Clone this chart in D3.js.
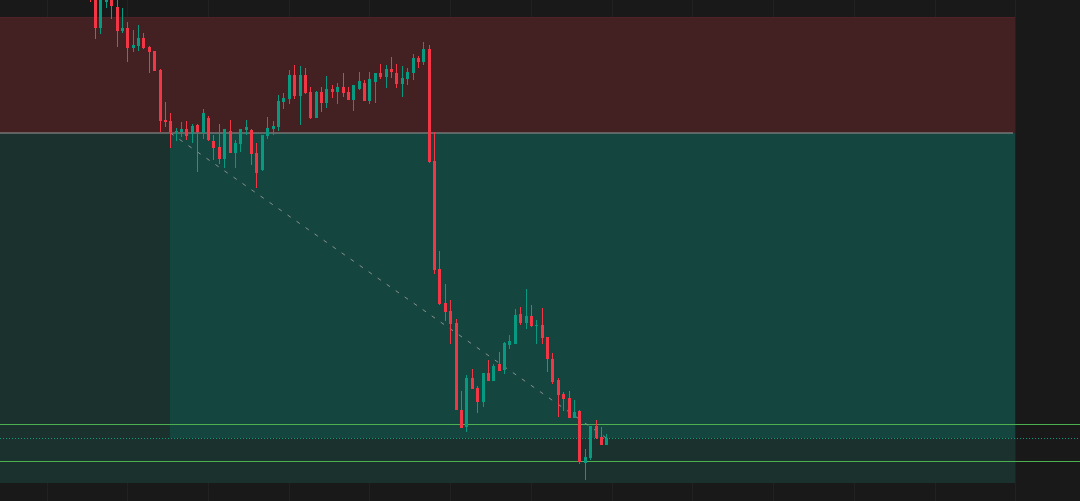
<!DOCTYPE html>
<html>
<head>
<meta charset="utf-8">
<script src="https://cdn.jsdelivr.net/npm/d3@7"></script>
<style>
  html, body { margin: 0; padding: 0; background: #191919; overflow: hidden; }
  svg { display: block; }
</style>
</head>
<body>
<svg id="chart" width="1080" height="501"></svg>
<script>
// ---- DATA (bar index, OHLC) ----
const bars = [-1,0,1,2,3,4,5,6,7,8,9,10,11,12,13,14,15,16,17,18,19,20,21,22,23,24,25,26,27,28,29,30,31,32,33,34,35,36,37,38,39,40,41,42,43,44,45,46,47,48,49,50,51,52,53,54,55,56,57,58,59,60,61,62,63,64,65,66,67,68,69,70,71,72,73,74,75,76,77,78,79,80,81,82,83,84,85,86,87,88,89,90,91,92,93,94,95];
const openP  = [70200,70050,69723,69983,70030,69930,69690,69720,69520,69540,69620,69530,69490,69300,68800,68790,68680,68680,68710,68660,68750,68670,68820,68590,68530,68410,68690,68470,68560,68700,68700,68470,68300,68640,68710,68730,68980,69010,69250,69040,69250,69080,68820,69080,68970,69110,69080,69130,69080,69000,69110,69170,68990,69180,69270,69230,69310,69270,69160,69210,69270,69420,69380,69510,68390,67310,66970,66890,66770,65900,65730,66220,66120,65980,66270,66190,66360,66300,66550,66560,66860,66770,66840,66740,66750,66630,66410,66200,66060,66020,65820,65890,65370,65420,65740,65630,65550];
const highP  = [70250,70100,70080,70080,70060,70010,69920,69780,69700,69750,69670,69540,69490,69310,68980,68870,68720,68780,68790,68760,68760,68910,68840,68650,68760,68710,68800,68600,68710,68800,68710,68570,68650,68830,68790,69050,69070,69300,69350,69340,69320,69130,69090,69130,69240,69150,69170,69270,69130,69150,69280,69200,69280,69270,69360,69350,69430,69360,69340,69320,69460,69440,69580,69550,68680,67490,67160,67000,66810,66090,66250,66310,66140,66270,66400,66360,66480,66580,66650,66910,66930,67110,66950,66800,66920,66630,66470,66220,66080,66090,66000,65900,65510,65740,65800,65730,65660];
const lowP   = [69980,69610,69663,69923,69810,69533,69670,69380,69480,69490,69510,69270,69290,68680,68730,68520,68590,68630,68600,68570,68280,68610,68590,68400,68360,68320,68470,68320,68480,68650,68350,68120,68290,68610,68650,68690,68910,68960,69010,68750,69060,68810,68820,68880,68920,69020,68960,69030,69000,68890,69100,68990,68960,68970,69210,69120,69220,69120,69030,69150,69200,69320,69350,68370,67260,66950,66790,66560,65900,65720,65680,66110,65870,65930,66190,66190,66290,66260,66510,66560,66750,66710,66730,66560,66560,66280,66160,65830,65890,65820,65820,65360,65200,65400,65610,65550,65550];
const closeP = [70030,69723,70030,70040,69943,69690,69720,69520,69550,69620,69520,69480,69290,68790,68780,68680,68690,68710,68640,68740,68680,68870,68600,68520,68410,68710,68470,68570,68710,68730,68460,68270,68650,68720,68740,68990,69020,69250,69040,69250,69070,68820,69080,68970,69110,69080,69130,69070,69000,69150,69190,68990,69210,69270,69230,69310,69280,69160,69220,69280,69420,69380,69510,68385,67300,66960,66880,66760,65900,65720,66220,66110,65980,66270,66190,66340,66290,66570,66590,66850,66770,66840,66740,66750,66620,66410,66180,66050,66010,65820,65880,65380,65430,65740,65620,65550,65620];

// ---- Position levels ----
const stopPrice = 69830;
const entryPrice = 68670;
const targetPrice = 65170;
const levelLines = [65760, 65390];
const entryBar = 14;
const boxStartBar = -40;
const boxEndBar = 171;
const gridBars = [-9, 6, 21, 36, 51, 66, 81, 96, 111, 126, 141, 156, 171];

// ---- Colours ----
const upColor = "#089981";
const downColor = "#f23645";

const W = 1080, H = 501;
const svg = d3.select("#chart");

const x = d3.scaleLinear().domain([0, 95]).range([95, 606.3]);
const y = d3.scaleLinear().domain([70000, 64990]).range([0, H]);

const lastBar = bars[bars.length - 1];
const lastClose = closeP[closeP.length - 1];

// background
svg.append("rect").attr("width", W).attr("height", H).attr("fill", "#191919");

// vertical grid
svg.append("g").selectAll("rect").data(gridBars).join("rect")
  .attr("x", d => Math.round(x(d)))
  .attr("y", 0).attr("width", 1).attr("height", H)
  .attr("fill", "rgba(255,255,255,0.035)");

const xStart = Math.max(0, x(boxStartBar));
const xEnd = Math.round(x(boxEndBar));

// stop (risk) box
svg.append("rect")
  .attr("x", xStart).attr("y", Math.round(y(stopPrice)))
  .attr("width", xEnd - xStart)
  .attr("height", Math.round(y(entryPrice)) - Math.round(y(stopPrice)))
  .attr("fill", "#432022");
svg.append("rect")
  .attr("x", xStart).attr("y", Math.round(y(stopPrice)))
  .attr("width", xEnd - xStart).attr("height", 1)
  .attr("fill", "#4e2226");

// target (reward) box
svg.append("rect")
  .attr("x", xStart).attr("y", Math.round(y(entryPrice)))
  .attr("width", xEnd - xStart)
  .attr("height", Math.round(y(targetPrice)) - Math.round(y(entryPrice)))
  .attr("fill", "#1a312d");

// filled profit zone (entry -> current)
const xEntry = Math.round(x(entryBar));
svg.append("rect")
  .attr("x", xEntry).attr("y", Math.round(y(entryPrice)))
  .attr("width", xEnd - xEntry)
  .attr("height", Math.round(y(lastClose)) - Math.round(y(entryPrice)))
  .attr("fill", "#15453f");

// entry line
svg.append("rect")
  .attr("x", xStart).attr("y", Math.round(y(entryPrice)) - 0.5)
  .attr("width", xEnd - 2 - xStart).attr("height", 1)
  .attr("fill", "#9a9a9a");

// green level lines
svg.append("g").selectAll("rect").data(levelLines).join("rect")
  .attr("x", 0).attr("y", d => Math.round(y(d)))
  .attr("width", W).attr("height", 1)
  .attr("fill", "#4caf50");

// current price dotted line
svg.append("line")
  .attr("x1", 0).attr("x2", W)
  .attr("y1", Math.round(y(lastClose)) + 0.5).attr("y2", Math.round(y(lastClose)) + 0.5)
  .attr("stroke", upColor).attr("stroke-width", 1)
  .attr("stroke-dasharray", "1,2");

// dashed trade path line
svg.append("line")
  .attr("x1", x(entryBar)).attr("y1", y(entryPrice))
  .attr("x2", x(lastBar)).attr("y2", y(lastClose))
  .attr("stroke", "#8a8f8d").attr("stroke-width", 1)
  .attr("stroke-dasharray", "4,7");

// candles
const data = bars.map((b, i) => ({ b, o: openP[i], h: highP[i], l: lowP[i], c: closeP[i] }));
const g = svg.append("g").attr("shape-rendering", "crispEdges");
const cg = g.selectAll("g.c").data(data).join("g").attr("class", "c");
cg.append("rect")
  .attr("x", d => Math.round(x(d.b)))
  .attr("y", d => y(d.h))
  .attr("width", 1)
  .attr("height", d => Math.max(1, y(d.l) - y(d.h)))
  .attr("fill", d => d.c >= d.o ? upColor : downColor);
cg.append("rect")
  .attr("x", d => Math.round(x(d.b)) - 1)
  .attr("y", d => y(Math.max(d.o, d.c)))
  .attr("width", 3)
  .attr("height", d => Math.max(1, Math.abs(y(d.o) - y(d.c))))
  .attr("fill", d => d.c >= d.o ? upColor : downColor);
</script>
</body>
</html>
